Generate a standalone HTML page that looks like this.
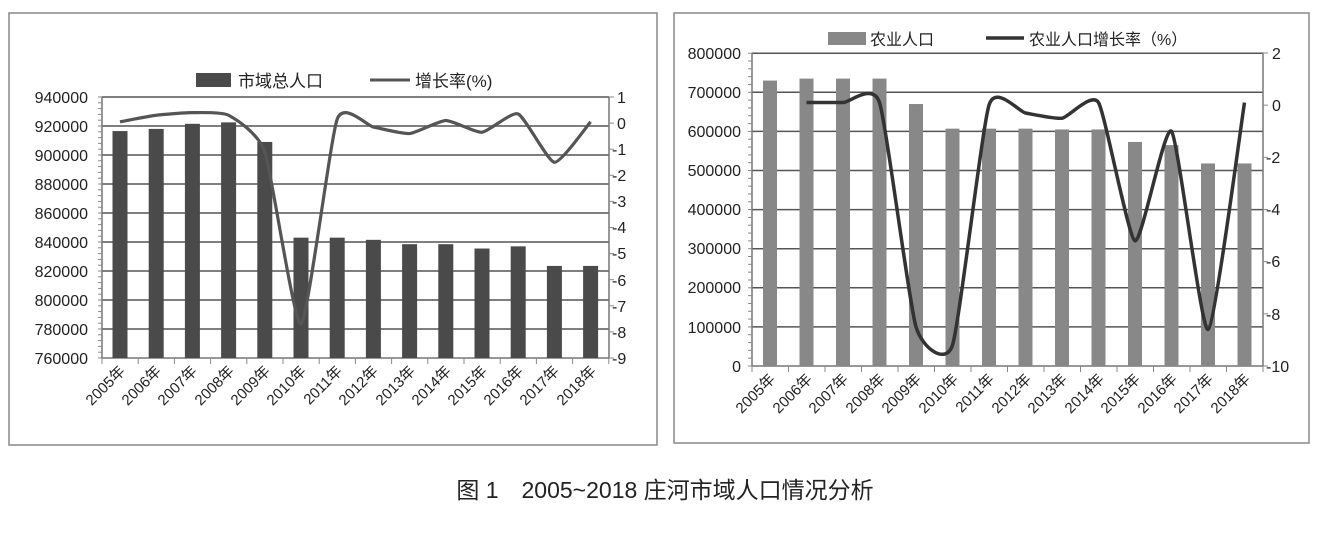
<!DOCTYPE html>
<html><head><meta charset="utf-8"><style>
body{margin:0;background:#fff;width:1330px;height:535px;overflow:hidden}
svg{position:absolute;left:0;top:0}
text{font-family:"Liberation Sans","Noto Sans CJK SC",sans-serif;fill:#222}
</style></head><body>
<svg id="s" width="1330" height="535" viewBox="0 0 1330 535">
<rect x="9" y="13" width="648" height="432" fill="#fff" stroke="#888" stroke-width="1.5"/>
<rect x="674" y="13" width="635" height="430" fill="#fff" stroke="#888" stroke-width="1.5"/>
<g id="g"></g>
<rect x="196" y="73" width="35" height="14" fill="#4a4a4a"/>
<text x="238" y="87" font-size="17">市域总人口</text>
<line x1="370" y1="80" x2="410" y2="80" stroke="#555" stroke-width="3"/>
<text x="415" y="87" font-size="17">增长率(%)</text>
<g font-size="16" text-anchor="end">
<text x="88" y="103">940000</text><text x="88" y="132">920000</text><text x="88" y="161">900000</text>
<text x="88" y="190">880000</text><text x="88" y="219">860000</text><text x="88" y="248">840000</text>
<text x="88" y="277">820000</text><text x="88" y="306">800000</text><text x="88" y="335">780000</text>
<text x="88" y="364">760000</text></g>
<g font-size="16">
<text x="617" y="103">1</text><text x="617" y="129">0</text><text x="612" y="155">-1</text>
<text x="612" y="181">-2</text><text x="612" y="207">-3</text><text x="612" y="233">-4</text>
<text x="612" y="259">-5</text><text x="612" y="286">-6</text><text x="612" y="312">-7</text>
<text x="612" y="338">-8</text><text x="612" y="364">-9</text></g>
<rect x="828" y="32" width="38" height="13" fill="#888"/>
<text x="870" y="45" font-size="16">农业人口</text>
<line x1="986" y1="38" x2="1024" y2="38" stroke="#333" stroke-width="3.5"/>
<text x="1029" y="45" font-size="16">农业人口增长率（%）</text>
<g font-size="16" text-anchor="end">
<text x="741" y="59">800000</text><text x="741" y="98">700000</text><text x="741" y="137">600000</text>
<text x="741" y="176">500000</text><text x="741" y="215">400000</text><text x="741" y="254">300000</text>
<text x="741" y="293">200000</text><text x="741" y="333">100000</text><text x="741" y="372">0</text></g>
<g font-size="16">
<text x="1272" y="59">2</text><text x="1272" y="111">0</text><text x="1266" y="163">-2</text>
<text x="1266" y="215">-4</text><text x="1266" y="267">-6</text><text x="1266" y="320">-8</text>
<text x="1266" y="372">-10</text></g>
<g font-size="15" text-anchor="end">
<text transform="translate(126,372) rotate(-45)">2005年</text>
<text transform="translate(162,372) rotate(-45)">2006年</text>
<text transform="translate(198,372) rotate(-45)">2007年</text>
<text transform="translate(235,372) rotate(-45)">2008年</text>
<text transform="translate(271,372) rotate(-45)">2009年</text>
<text transform="translate(307,372) rotate(-45)">2010年</text>
<text transform="translate(343,372) rotate(-45)">2011年</text>
<text transform="translate(379,372) rotate(-45)">2012年</text>
<text transform="translate(416,372) rotate(-45)">2013年</text>
<text transform="translate(452,372) rotate(-45)">2014年</text>
<text transform="translate(488,372) rotate(-45)">2015年</text>
<text transform="translate(524,372) rotate(-45)">2016年</text>
<text transform="translate(560,372) rotate(-45)">2017年</text>
<text transform="translate(597,372) rotate(-45)">2018年</text>
<text transform="translate(776,380) rotate(-45)">2005年</text>
<text transform="translate(813,380) rotate(-45)">2006年</text>
<text transform="translate(849,380) rotate(-45)">2007年</text>
<text transform="translate(886,380) rotate(-45)">2008年</text>
<text transform="translate(922,380) rotate(-45)">2009年</text>
<text transform="translate(959,380) rotate(-45)">2010年</text>
<text transform="translate(995,380) rotate(-45)">2011年</text>
<text transform="translate(1032,380) rotate(-45)">2012年</text>
<text transform="translate(1068,380) rotate(-45)">2013年</text>
<text transform="translate(1105,380) rotate(-45)">2014年</text>
<text transform="translate(1141,380) rotate(-45)">2015年</text>
<text transform="translate(1178,380) rotate(-45)">2016年</text>
<text transform="translate(1214,380) rotate(-45)">2017年</text>
<text transform="translate(1251,380) rotate(-45)">2018年</text>
</g>
<text x="665" y="498" font-size="23" text-anchor="middle" fill="#333">图 1　2005~2018 庄河市域人口情况分析</text>
</svg>
<script>
var g=document.getElementById('g'),h='';
function L(x1,y1,x2,y2,c,w){h+='<line x1="'+x1+'" y1="'+y1+'" x2="'+x2+'" y2="'+y2+'" stroke="'+c+'" stroke-width="'+w+'"/>';}
function smooth(p){var k=11,d='M'+p[0][0]+','+p[0][1];for(var i=0;i<p.length-1;i++){var p0=p[i-1]||p[i],p1=p[i],p2=p[i+1],p3=p[i+2]||p2;
d+=' C'+(p1[0]+(p2[0]-p0[0])/k)+','+(p1[1]+(p2[1]-p0[1])/k)+' '+(p2[0]-(p3[0]-p1[0])/k)+','+(p2[1]-(p3[1]-p1[1])/k)+' '+p2[0]+','+p2[1];}return d;}
var l=102,r=609,t=97,b=358;
for(var i=1;i<=9;i++){var y=358-i*29;L(l,y,r,y,'#555',1.5);}
L(l,t,l,b,'#777',1.5);L(r,t,r,b,'#777',1.5);L(l,b,r,b,'#777',1.5);
for(var i=0;i<=45;i++){var y=b-i*29/5;L(l-4,y,l,y,'#888',1);}
for(var i=0;i<=10;i++){var y=t+i*26.1;L(r,y,r+5,y,'#888',1);}
for(var i=0;i<=14;i++){var x=l+i*36.2;L(x,b,x,b+6,'#888',1);}
var v1=[916500,918000,921500,922500,909000,843000,843000,841500,838500,838500,835500,837000,823500,823500];
var r1=[0.05,0.3,0.4,0.3,-1.1,-7.7,0.15,-0.15,-0.4,0.1,-0.35,0.35,-1.5,0.05],p=[];
for(var i=0;i<14;i++){var cx=120+36.2*i,y=b-(v1[i]-760000)/20000*29;h+='<rect x="'+(cx-7.5)+'" y="'+y+'" width="15" height="'+(b-y)+'" fill="#4a4a4a"/>';p.push([cx,t+(1-r1[i])*26.1]);}
h+='<path d="'+smooth(p)+'" fill="none" stroke="#555" stroke-width="3.2"/>';
l=752;r=1263;t=53;b=366;
for(var i=1;i<=8;i++){var y=b-i*39.1;L(l,y,r,y,'#555',1.5);}
L(l,t,l,b,'#777',1.5);L(r,t,r,b,'#777',1.5);L(l,b,r,b,'#777',1.5);
for(var i=0;i<=40;i++){var y=b-i*39.1/5;L(l-4,y,l,y,'#888',1);}
for(var i=0;i<=6;i++){var y=t+i*52.17;L(r,y,r+5,y,'#888',1);}
for(var i=0;i<=14;i++){var x=l+i*36.5;L(x,b,x,b+6,'#888',1);}
var v2=[730000,735000,735000,735000,670000,607000,607000,607000,605000,605000,573000,565000,518000,518000];
var r2=[null,0.1,0.1,0.1,-8.5,-9.2,0,-0.3,-0.5,0.1,-5.2,-1.0,-8.6,0.1];p=[];
for(var i=0;i<14;i++){var cx=770+36.5*i,y=b-v2[i]/100000*39.1;h+='<rect x="'+(cx-7)+'" y="'+y+'" width="14" height="'+(b-y)+'" fill="#888"/>';if(r2[i]!==null)p.push([cx,t+(2-r2[i])/2*52.17]);}
h+='<path d="'+smooth(p)+'" fill="none" stroke="#333" stroke-width="3.5"/>';
g.innerHTML=h;
</script>
</body></html>
